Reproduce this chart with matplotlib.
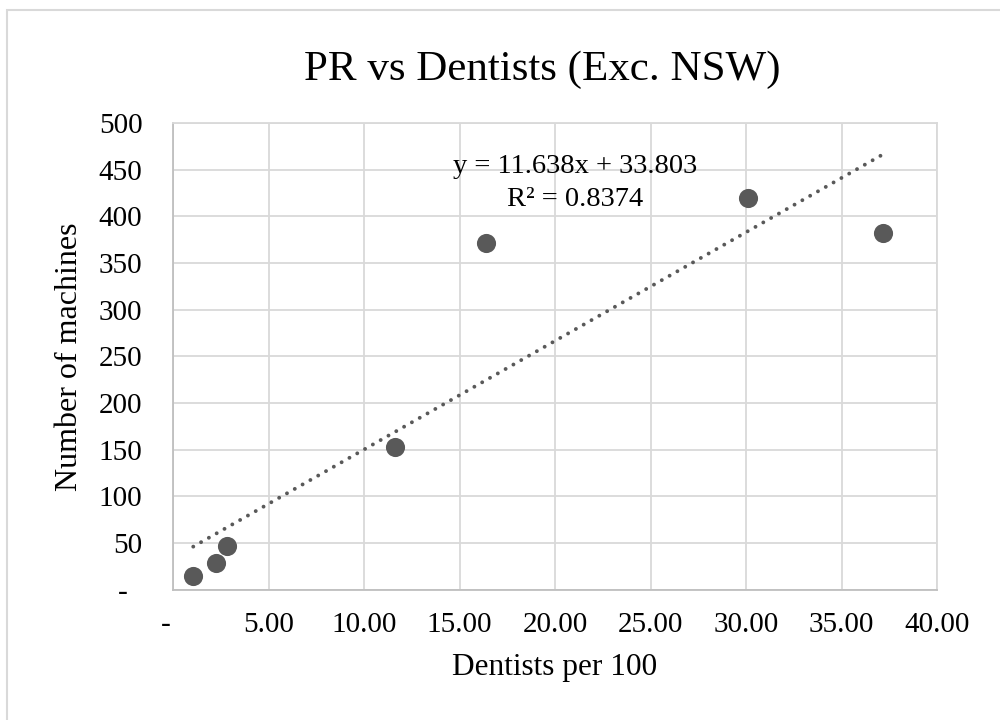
import matplotlib
matplotlib.use("Agg")
import matplotlib.pyplot as plt
from matplotlib.patches import Rectangle
import numpy as np

plt.rcParams['font.family'] = ['Liberation Serif', 'DejaVu Serif']

# Data
dentists_per_100 = [1.06, 2.24, 2.84, 11.62, 16.37, 30.10, 37.16]
machines = [15, 29, 47, 153, 371, 420, 382]
slope = 11.638
intercept = 33.803
r_squared = 0.8374

x_ticks = [0, 5, 10, 15, 20, 25, 30, 35, 40]
x_tick_labels = ["-  ", "5.00", "10.00", "15.00", "20.00", "25.00", "30.00", "35.00", "40.00"]
y_ticks = [0, 50, 100, 150, 200, 250, 300, 350, 400, 450, 500]
y_tick_labels = ["-  ", "50", "100", "150", "200", "250", "300", "350", "400", "450", "500"]

title = "PR vs Dentists (Exc. NSW)"
x_label = "Dentists per 100"
y_label = "Number of machines"

W, H = 1000, 720
fig = plt.figure(figsize=(W / 100, H / 100), dpi=100)
ax = fig.add_axes([173 / W, 1 - 589.7 / H, (937 - 173) / W, (589.7 - 123) / H])

grid_c = "#d9d9d9"
pt_c = "#595959"

ax.set_xlim(0, 40)
ax.set_ylim(0, 500)
ax.set_xticks(x_ticks)
ax.set_xticklabels(x_tick_labels)
ax.set_yticks(y_ticks)
ax.set_yticklabels(y_tick_labels)
ax.tick_params(axis='both', length=0, labelsize=21, colors="#000000")
ax.tick_params(axis='x', pad=16)
ax.tick_params(axis='y', pad=22)
ax.grid(True, color=grid_c, linewidth=1.3)
ax.set_axisbelow(True)
for s in ax.spines.values():
    s.set_color(grid_c)
    s.set_linewidth(1.3)
ax.spines['bottom'].set_color("#bfbfbf")
ax.spines['left'].set_color("#bfbfbf")

ax.scatter(dentists_per_100, machines, s=190, color=pt_c, zorder=3, linewidths=0)

xs = np.array([min(dentists_per_100), max(dentists_per_100)])
ax.plot(xs, slope * xs + intercept, color=pt_c, linewidth=2.8,
        linestyle=(0, (0.01, 2.3)), dash_capstyle='round', zorder=2)

ax.text(21.05, 457, f"y = {slope}x + {intercept}",
        ha='center', va='center_baseline', fontsize=20.5)
ax.text(21.05, 421.5, f"R² = {r_squared}",
        ha='center', va='center_baseline', fontsize=20.5)

fig.text(542 / W, 1 - 70 / H, title, ha='center', va='center', fontsize=31)
fig.text(555 / W, 1 - 668 / H, x_label, ha='center', va='center', fontsize=22.5)
fig.text(70 / W, 1 - 357 / H, y_label, ha='center', va='center', fontsize=23, rotation=90)

fig.add_artist(Rectangle((7 / W, -0.1), 1.2, 1 - 10 / H + 0.1, transform=fig.transFigure,
                         fill=False, edgecolor=grid_c, linewidth=1.5, clip_on=False))

fig.savefig("out.png", dpi=100)
